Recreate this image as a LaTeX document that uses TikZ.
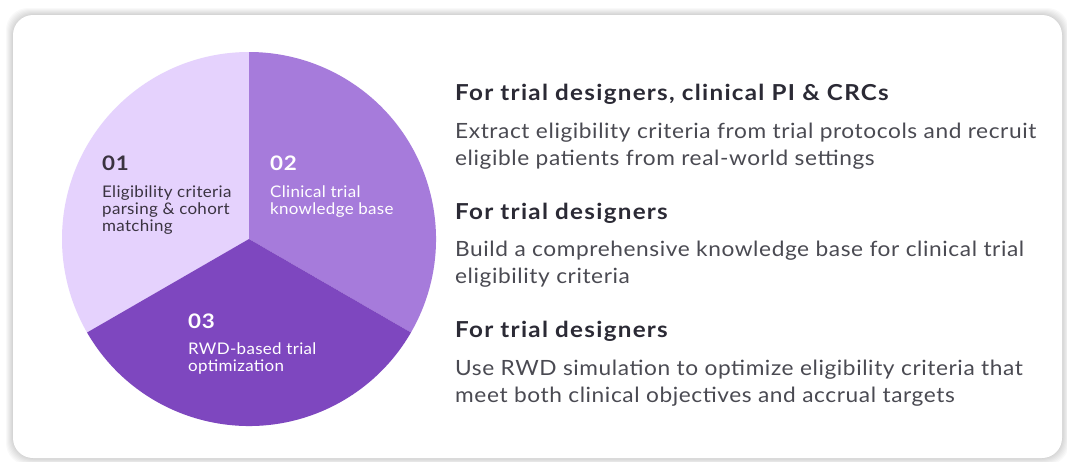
\documentclass[tikz,border=0pt]{standalone}
\usepackage{fontspec}
\setmainfont{Lato}
\definecolor{sliceA}{HTML}{E5D2FD}
\definecolor{sliceB}{HTML}{A67BDB}
\definecolor{sliceC}{HTML}{7E47BF}
\definecolor{headink}{HTML}{2B2A35}
\definecolor{bodyink}{HTML}{4A4A52}
\definecolor{darklabel}{HTML}{3A3340}
\tikzset{
  numtxt/.style={anchor=base west, inner sep=0pt, font=\fontsize{20}{22}\selectfont\bfseries\addfontfeatures{FakeStretch=1.12,LetterSpace=3}},
  slicetxt/.style={anchor=base west, inner sep=0pt, font=\fontsize{16}{17}\selectfont\addfontfeatures{FakeStretch=1.06,LetterSpace=2}},
  headtxt/.style={anchor=base west, inner sep=0pt, text=headink, font=\fontsize{22}{24}\selectfont\bfseries\addfontfeatures{FakeStretch=1.1,LetterSpace=5.8}},
  bodytxt/.style={anchor=base west, inner sep=0pt, text=bodyink, font=\fontsize{21}{24}\selectfont\addfontfeatures{FakeStretch=1.08,LetterSpace=2.8}},
}
\begin{document}
\begin{tikzpicture}[x=1pt,y=1pt]
\useasboundingbox (0,0) rectangle (1067,-461);
\fill[white] (0,0) rectangle (1067,-461);
% soft card shadow
\foreach \g in {7,6,5,4,3,2,1}{
  \fill[black, opacity=0.025, rounded corners=22pt] (13-\g,-15+\g) rectangle (1062+\g,-458-\g);
}
\fill[white, rounded corners=20pt] (13,-15) rectangle (1062,-458);
% pie
\coordinate (pc) at (249,-239);
\fill[sliceA] (pc) -- ++(90:187) arc[start angle=90, end angle=210, radius=187] -- cycle;
\fill[sliceB] (pc) -- ++(-30:187) arc[start angle=-30, end angle=90, radius=187] -- cycle;
\fill[sliceC] (pc) -- ++(210:187) arc[start angle=210, end angle=330, radius=187] -- cycle;
% slice labels
\node[numtxt, text=darklabel] (n1) at (102,-170) {01};
\node[slicetxt, text=darklabel] (l1a) at (102,-197) {Eligibility criteria};
\node[slicetxt, text=darklabel] (l1b) at (102,-214) {parsing \& cohort};
\node[slicetxt, text=darklabel] (l1c) at (102,-231) {matching};
\node[numtxt, text=white] (n2) at (270,-170) {02};
\node[slicetxt, text=white] (l2a) at (270,-197) {Clinical trial};
\node[slicetxt, text=white] (l2b) at (270,-214) {knowledge base};
\node[numtxt, text=white] (n3) at (188,-328) {03};
\node[slicetxt, text=white] (l3a) at (188,-354) {RWD-based trial};
\node[slicetxt, text=white] (l3b) at (188,-371) {optimization};
% descriptions
\node[headtxt] (h1) at (455,-100) {For trial designers, clinical PI \& CRCs};
\node[bodytxt] (b1a) at (455,-138) {Extract eligibility criteria from trial protocols and recruit};
\node[bodytxt] (b1b) at (455,-165) {eligible patients from real-world settings};
\node[headtxt] (h2) at (455,-219) {For trial designers};
\node[bodytxt] (b2a) at (455,-256) {Build a comprehensive knowledge base for clinical trial};
\node[bodytxt] (b2b) at (455,-283) {eligibility criteria};
\node[headtxt] (h3) at (455,-337) {For trial designers};
\node[bodytxt] (b3a) at (455,-375) {Use RWD simulation to optimize eligibility criteria that};
\node[bodytxt] (b3b) at (455,-402) {meet both clinical objectives and accrual targets};
\end{tikzpicture}
\end{document}
